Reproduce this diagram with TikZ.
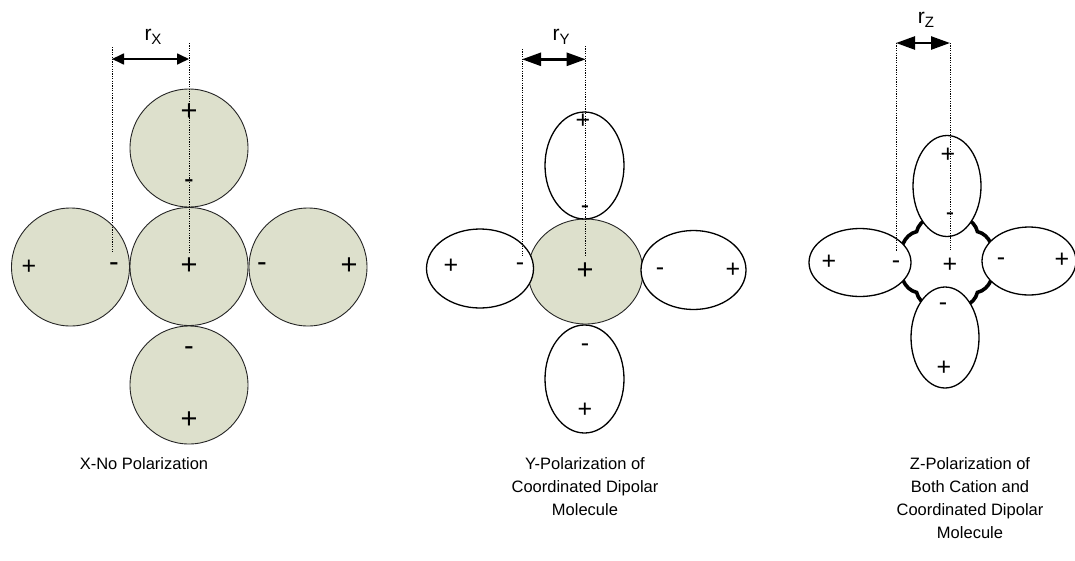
\documentclass[tikz,border=0pt]{standalone}
\usepackage{fontspec}
\setmainfont{Liberation Sans}
\usetikzlibrary{shapes.geometric,arrows.meta,calc}
\definecolor{olivefill}{RGB}{221,224,204}
\begin{document}
\begin{tikzpicture}[x=1pt,y=-1pt,
  ball/.style={circle,draw=black!85,line width=0.9pt,fill=olivefill,minimum size=118pt,inner sep=0pt,outer sep=0pt},
  lobe/.style={ellipse,draw=black,line width=1.3pt,fill=white,inner sep=0pt,outer sep=0pt},
  cation/.style={ellipse,draw=black!85,line width=0.9pt,fill=olivefill,inner sep=0pt,outer sep=0pt},
  sgn/.style={font=\fontsize{25}{25}\selectfont,inner sep=0pt},
  bigsgn/.style={font=\fontsize{29}{29}\selectfont,inner sep=0pt},
  guide/.style={line width=1pt,dash pattern=on 1.2pt off 1.2pt},
  dimA/.style={line width=1.7pt,{Triangle[length=12pt,width=11pt]}-{Triangle[length=12pt,width=11pt]}},
  dimB/.style={line width=2.5pt,{Triangle[length=19pt,width=13pt]}-{Triangle[length=19pt,width=13pt]}},
  lbl/.style={font=\fontsize{21}{21}\selectfont,inner sep=0pt},
  captext/.style={font=\fontsize{16.5}{23}\selectfont,align=center,inner sep=0pt,anchor=north},
  shell/.style={line width=3.6pt,draw=black,fill=white}
]
\fill[white] (0,0) rectangle (1075,560);
\useasboundingbox (0,0) rectangle (1075,560);

% ---------------- X panel ----------------
\node[ball] (xc) at (189,266.5) {};
\node[ball] (xt) at (189,148) {};
\node[ball] (xb) at (189,385) {};
\node[ball] (xl) at (70.5,267) {};
\node[ball] (xr) at (308,267) {};
\node[bigsgn] (xtp) at (189,112) {+};
\node[bigsgn] (xtm) at (189,184) {-};
\node[bigsgn] (xcp) at (189,266) {+};
\node[sgn] (xlp) at (29,267) {+};
\node[bigsgn] (xlm) at (114,267) {-};
\node[bigsgn] (xrm) at (262,267) {-};
\node[bigsgn] (xrp) at (349,266) {+};
\node[bigsgn] (xbm) at (189,351) {-};
\node[bigsgn] (xbp) at (189,420) {+};
\coordinate (xg1a) at (112,47);
\coordinate (xg1b) at (112,252);
\coordinate (xg2a) at (189,43);
\coordinate (xg2b) at (189,252);
\draw[guide] (xg1a) -- (xg1b);
\draw[guide] (xg2a) -- (xg2b);
\coordinate (xd1) at (112,59);
\coordinate (xd2) at (189,59);
\draw[dimA] (xd1) -- (xd2);
\node[lbl] (rx) at (153,37) {r\raisebox{-4.5pt}{\fontsize{15}{15}\selectfont X}};
\node[captext] (capx) at (144,457) {X-No Polarization};

% ---------------- Y panel ----------------
\node[cation,minimum width=115pt,minimum height=105pt] (yc) at (585.5,271.5) {};
\node[lobe,minimum width=79pt,minimum height=107pt] (yt) at (584.5,165.5) {};
\node[lobe,minimum width=79pt,minimum height=108pt] (yb) at (584.5,379) {};
\node[lobe,minimum width=107pt,minimum height=79pt] (yl) at (480,268.5) {};
\node[lobe,minimum width=105pt,minimum height=79pt] (yr) at (693.5,270) {};
\node[sgn] (ytp) at (583,121) {+};
\node[sgn] (ytm) at (585,210) {-};
\node[bigsgn] (ycp) at (585,271) {+};
\node[sgn] (ylp) at (451,266) {+};
\node[sgn] (ylm) at (520,267) {-};
\node[sgn] (yrm) at (660,272) {-};
\node[sgn] (yrp) at (733,270) {+};
\node[sgn] (ybm) at (585,348) {-};
\node[sgn] (ybp) at (585,410) {+};
\coordinate (yg1a) at (522,49);
\coordinate (yg1b) at (522,256);
\coordinate (yg2a) at (585.7,46);
\coordinate (yg2b) at (585.7,256);
\draw[guide] (yg1a) -- (yg1b);
\draw[guide] (yg2a) -- (yg2b);
\coordinate (yd1) at (522,59.3);
\coordinate (yd2) at (585.7,59.3);
\draw[dimB] (yd1) -- (yd2);
\node[lbl] (ry) at (561,37) {r\raisebox{-4.5pt}{\fontsize{15}{15}\selectfont Y}};
\node[captext] (capy) at (585,457) {Y-Polarization of\\Coordinated Dipolar\\Molecule};

% ---------------- Z panel ----------------
\coordinate (zc) at (947,262);
\draw[shell] ($(zc)+(0:43)$)
  \foreach \a in {0,45,...,315} { to[bend left=55] ($(zc)+(\a+45:43)$) } -- cycle;
\node[lobe,minimum width=68pt,minimum height=101pt] (zt) at (947,186) {};
\node[lobe,minimum width=68pt,minimum height=101pt] (zb) at (945,337.5) {};
\node[lobe,minimum width=102pt,minimum height=68pt] (zl) at (860,262.5) {};
\node[lobe,minimum width=94pt,minimum height=68pt] (zr) at (1029,261) {};
\node[sgn] (ztp) at (948,155) {+};
\node[sgn] (ztm) at (950,217) {-};
\node[sgn] (zcp) at (950,265) {+};
\node[sgn] (zlp) at (829,262) {+};
\node[sgn] (zlm) at (896,265) {-};
\node[sgn] (zrm) at (1001,262) {-};
\node[sgn] (zrp) at (1062,260) {+};
\node[sgn] (zbm) at (943,307) {-};
\node[sgn] (zbp) at (944,368) {+};
\coordinate (zg1a) at (896,43);
\coordinate (zg1b) at (896,251);
\coordinate (zg2a) at (950,43);
\coordinate (zg2b) at (950,250);
\draw[guide] (zg1a) -- (zg1b);
\draw[guide] (zg2a) -- (zg2b);
\draw[dimB] (zg1a) -- (zg2a);
\node[lbl] (rz) at (926,20) {r\raisebox{-4.5pt}{\fontsize{15}{15}\selectfont Z}};
\node[captext] (capz) at (970,457) {Z-Polarization of\\Both Cation and\\Coordinated Dipolar\\Molecule};
\end{tikzpicture}
\end{document}
